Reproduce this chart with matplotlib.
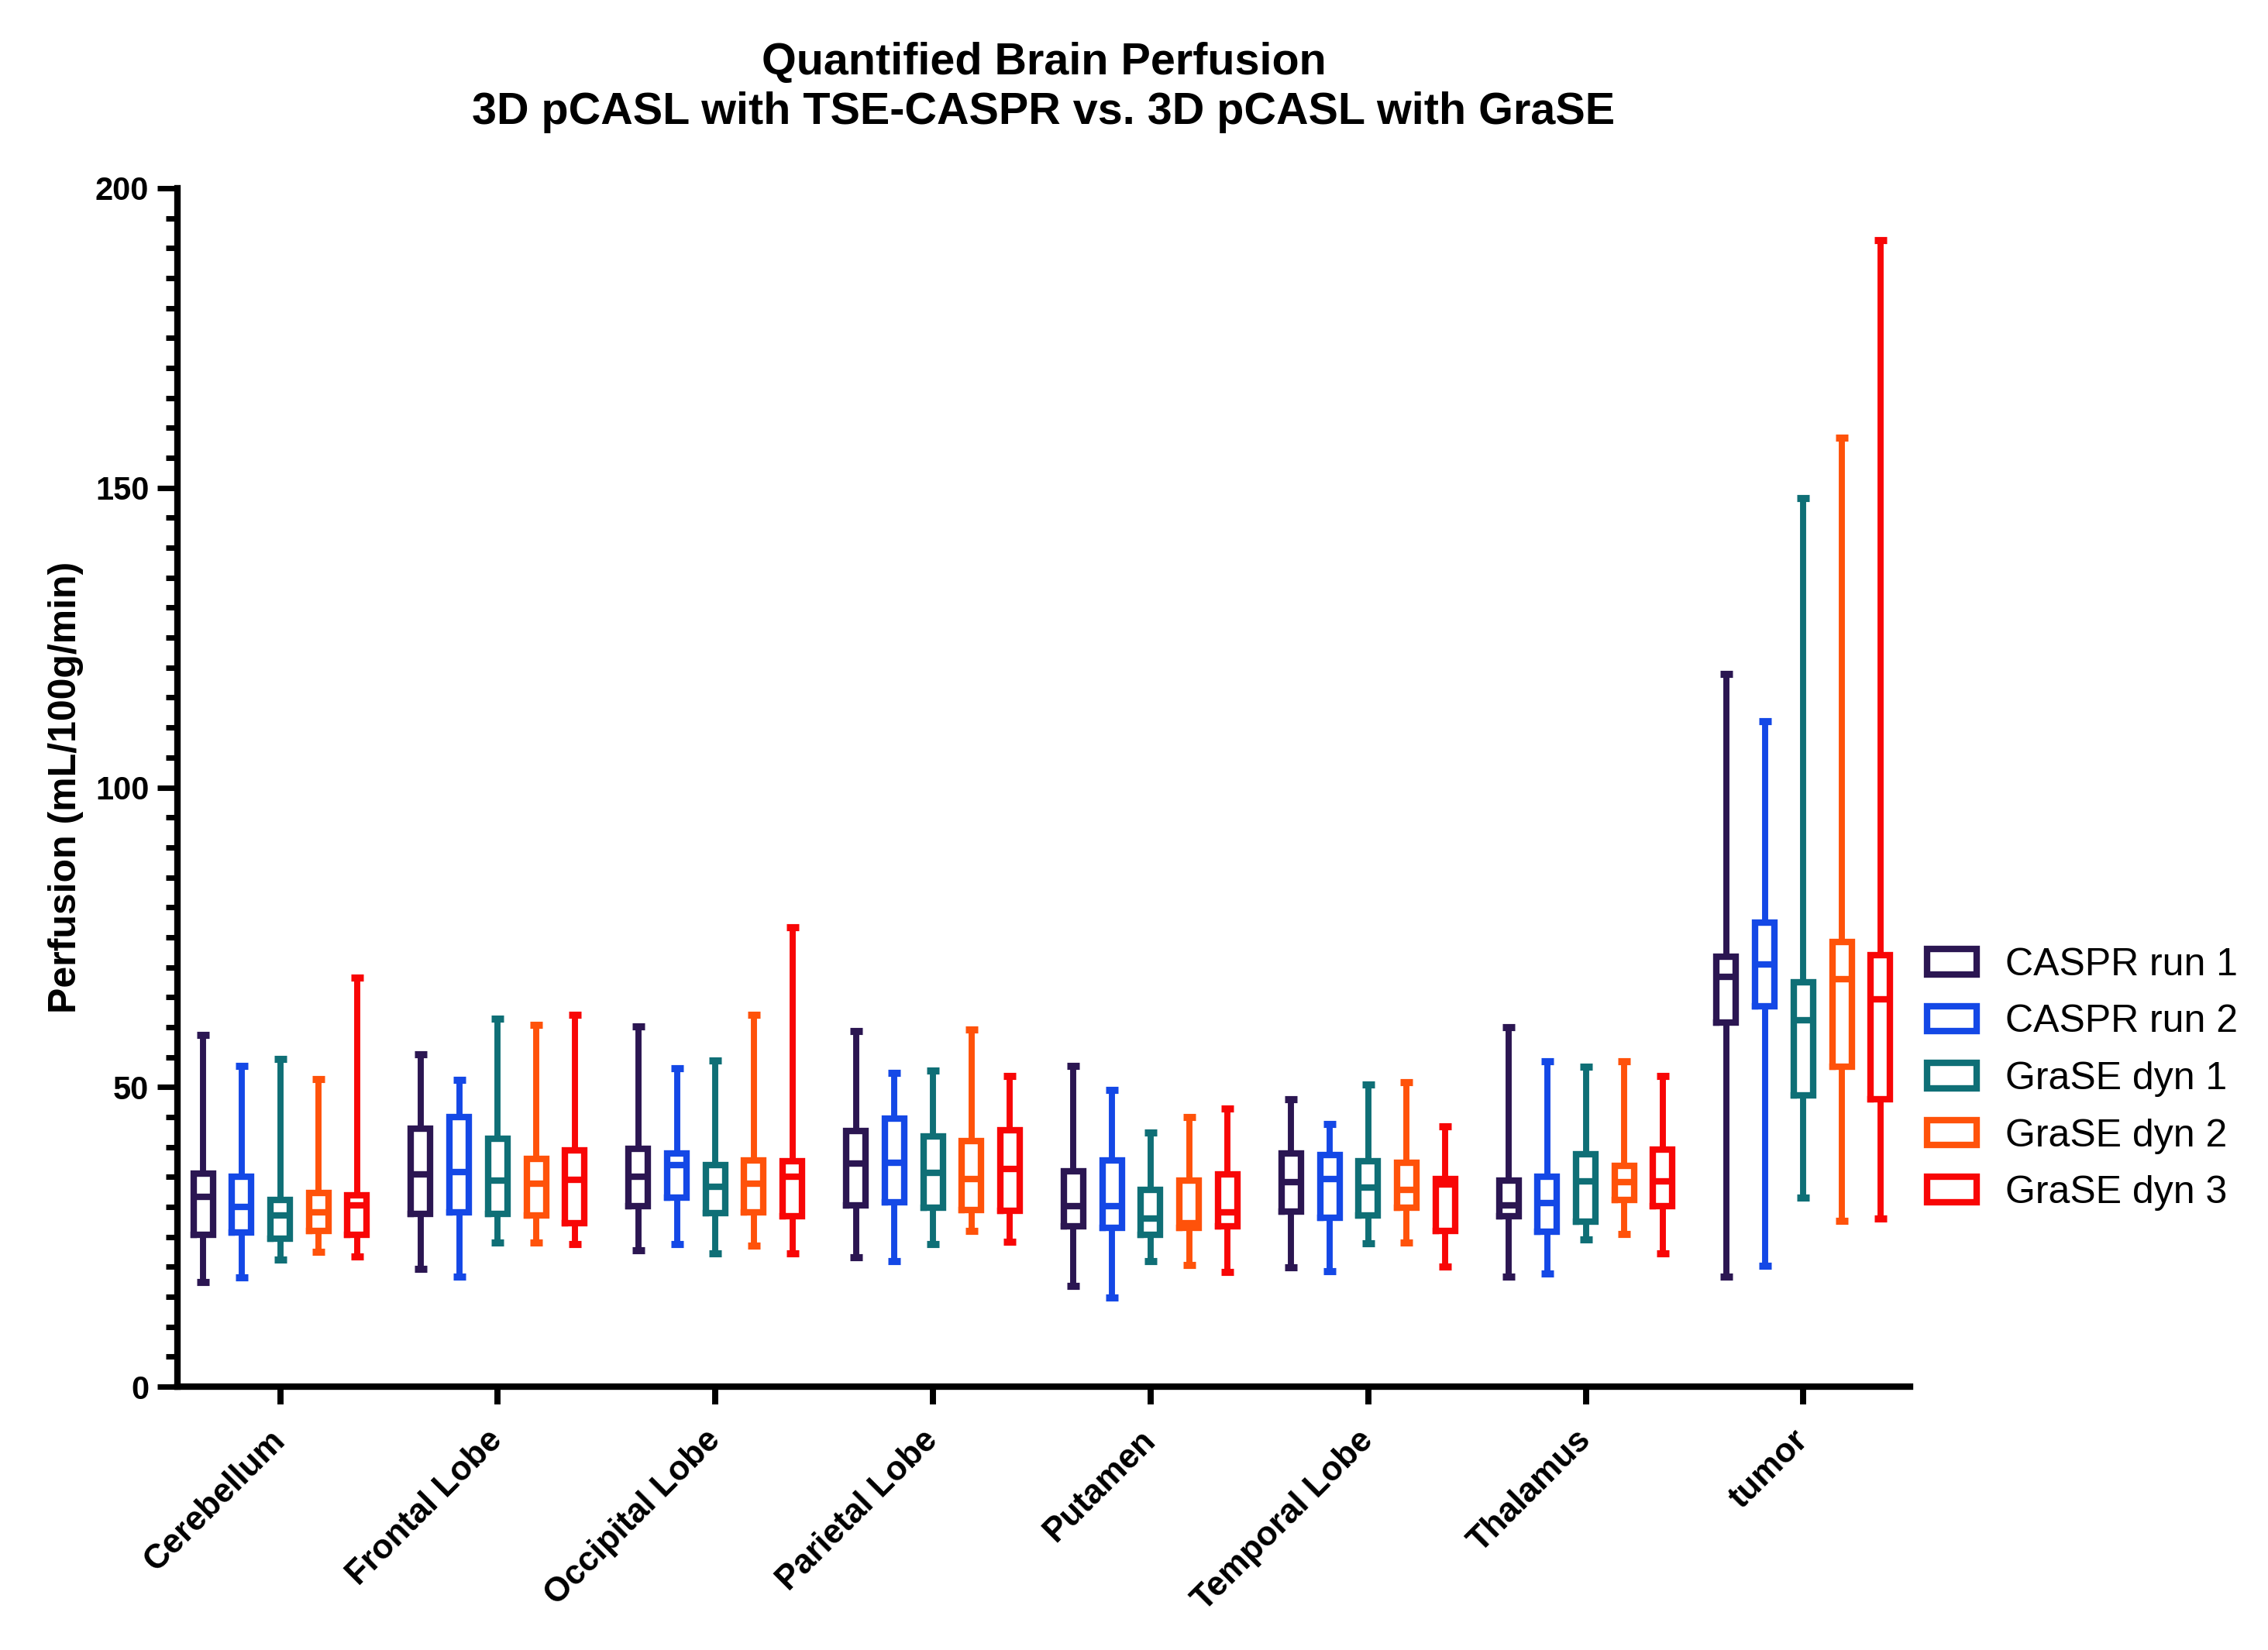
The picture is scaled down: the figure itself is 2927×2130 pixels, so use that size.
import matplotlib
matplotlib.use("Agg")
import matplotlib.pyplot as plt
from matplotlib.patches import Patch
from matplotlib.ticker import MultipleLocator

plt.rcParams['font.family'] = ['Liberation Sans', 'DejaVu Sans']

regions = ["Cerebellum", "Frontal Lobe", "Occipital Lobe", "Parietal Lobe",
           "Putamen", "Temporal Lobe", "Thalamus", "tumor"]

series_names = ["CASPR run 1", "CASPR run 2", "GraSE dyn 1", "GraSE dyn 2", "GraSE dyn 3"]
series_colors = ["#2B1652", "#1448E6", "#0F6F76", "#FF520A", "#F80606"]

# each row: [min, q1, median, q3, max]
caspr_run1 = [
    [17.5, 25.4, 31.7, 35.5, 58.7],
    [19.7, 28.8, 35.4, 43.1, 55.5],
    [22.7, 30.1, 35.1, 39.7, 60.1],
    [21.6, 30.3, 37.2, 42.7, 59.3],
    [16.8, 26.7, 30.1, 36.0, 53.5],
    [19.9, 29.2, 34.1, 38.9, 48.0],
    [18.3, 28.4, 30.3, 34.4, 60.0],
    [18.3, 60.7, 68.4, 71.7, 118.9],
]
caspr_run2 = [
    [18.2, 25.7, 30.0, 35.0, 53.5],
    [18.4, 29.1, 35.8, 45.0, 51.2],
    [23.8, 31.6, 37.0, 38.9, 53.1],
    [20.9, 30.8, 37.3, 44.7, 52.3],
    [14.9, 26.5, 30.1, 37.7, 49.5],
    [19.2, 28.2, 34.6, 38.7, 43.8],
    [18.9, 25.8, 30.7, 35.1, 54.3],
    [20.2, 63.5, 70.5, 77.4, 111.1],
]
grase_dyn1 = [
    [21.2, 24.7, 28.6, 31.2, 54.7],
    [24.0, 28.8, 34.4, 41.4, 61.4],
    [22.2, 28.9, 33.4, 37.0, 54.4],
    [23.8, 29.8, 35.7, 41.8, 52.7],
    [21.0, 25.3, 28.0, 32.9, 42.4],
    [23.9, 28.6, 33.2, 37.6, 50.4],
    [24.5, 27.5, 34.2, 38.8, 53.4],
    [31.5, 48.6, 61.2, 67.5, 148.3],
]
grase_dyn2 = [
    [22.5, 26.0, 29.1, 32.3, 51.3],
    [24.0, 28.6, 33.9, 38.0, 60.4],
    [23.5, 29.1, 33.9, 37.7, 62.1],
    [26.0, 29.5, 34.6, 41.0, 59.6],
    [20.3, 26.5, 27.3, 34.4, 45.0],
    [24.0, 29.8, 32.9, 37.3, 50.8],
    [25.5, 31.2, 34.1, 36.9, 54.3],
    [27.7, 53.4, 68.0, 74.2, 158.4],
]
grase_dyn3 = [
    [21.7, 25.4, 30.2, 31.9, 68.2],
    [23.8, 27.3, 34.5, 39.4, 62.0],
    [22.3, 28.4, 35.0, 37.6, 76.6],
    [24.2, 29.3, 36.3, 42.8, 51.8],
    [19.1, 26.7, 29.1, 35.4, 46.4],
    [20.1, 26.0, 33.7, 34.7, 43.4],
    [22.2, 30.1, 34.2, 39.5, 51.9],
    [28.0, 47.9, 64.6, 72.0, 191.3],
]
all_series = [caspr_run1, caspr_run2, grase_dyn1, grase_dyn2, grase_dyn3]

W, H, DPI = 2927, 2130, 300
fig = plt.figure(figsize=(W / DPI, H / DPI), dpi=DPI)
ax = fig.add_axes([229 / W, 1 - 1790 / H, (2465 - 229) / W, (1790 - 243) / H])

offset = 0.177
for k, (data, color) in enumerate(zip(all_series, series_colors)):
    stats = [dict(whislo=r[0], q1=r[1], med=r[2], q3=r[3], whishi=r[4], label="")
             for r in data]
    pos = [i + (k - 2) * offset for i in range(len(regions))]
    ax.bxp(stats, positions=pos, widths=0.089, capwidths=0.057,
           showfliers=False, manage_ticks=False,
           boxprops=dict(color=color, linewidth=2.0, solid_joinstyle='miter'),
           whiskerprops=dict(color=color, linewidth=1.9),
           capprops=dict(color=color, linewidth=2.2, solid_capstyle='butt'),
           medianprops=dict(color=color, linewidth=2.0, solid_capstyle='butt'))

ax.set_xlim(-0.472, 7.49)
ax.set_ylim(0, 200)

for s in ["top", "right"]:
    ax.spines[s].set_visible(False)
for s in ["left", "bottom"]:
    ax.spines[s].set_linewidth(2.0)

ax.set_yticks([0, 50, 100, 150, 200])
ax.yaxis.set_minor_locator(MultipleLocator(5))
ax.tick_params(axis='y', which='major', length=6.2, width=1.7, pad=2.6, labelsize=10)
ax.tick_params(axis='y', which='minor', length=3.6, width=1.7)
ax.set_yticklabels([str(v) for v in [0, 50, 100, 150, 200]], fontweight='bold')

ax.set_xticks(range(len(regions)))
ax.set_xticklabels(regions, rotation=45, ha='right', va='center',
                   rotation_mode='anchor', fontweight='bold', fontsize=10.5)
ax.tick_params(axis='x', which='major', length=5.5, width=1.9, pad=9.6)
ax.tick_params(axis='x', which='minor', bottom=False)

ax.set_ylabel("Perfusion (mL/100g/min)", fontsize=12, fontweight='bold')
ax.yaxis.set_label_coords(-0.054, 0.5)

fig.text((229 + 2465) / 2 / W, 1 - 113 / H,
         "Quantified Brain Perfusion\n3D pCASL with TSE-CASPR vs. 3D pCASL with GraSE",
         ha='center', va='center', fontsize=13.8, fontweight='bold', linespacing=1.25)

handles = [Patch(facecolor='white', edgecolor=c, linewidth=2.0, label=n)
           for n, c in zip(series_names, series_colors)]
fig.legend(handles=handles, loc='center left', bbox_to_anchor=(2487 / W, 1 - 1393 / H),
           frameon=False, fontsize=12, handlelength=1.28, handleheight=0.62,
           handletextpad=0.75, labelspacing=0.55, borderpad=0, borderaxespad=0)

fig.savefig("out.png", dpi=DPI)
